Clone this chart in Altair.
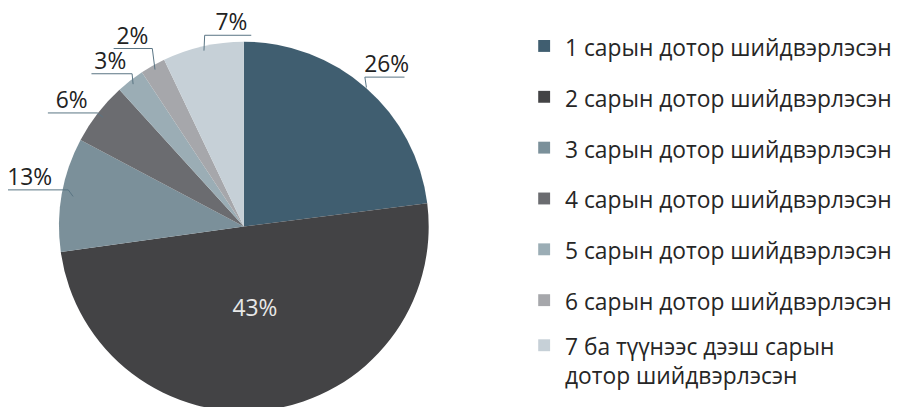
import math
import altair as alt
import pandas as pd

# ---------------- data ----------------
categories = [
    "1 сарын дотор шийдвэрлэсэн",
    "2 сарын дотор шийдвэрлэсэн",
    "3 сарын дотор шийдвэрлэсэн",
    "4 сарын дотор шийдвэрлэсэн",
    "5 сарын дотор шийдвэрлэсэн",
    "6 сарын дотор шийдвэрлэсэн",
    "7 ба түүнээс дээш сарын\nдотор шийдвэрлэсэн",
]
# slice sizes as drawn in the picture (share of the circle, %)
shares = [23.0, 49.8, 9.95, 5.5, 2.45, 2.2, 7.1]
# data labels as printed on the chart
labels = ["26%", "43%", "13%", "6%", "3%", "2%", "7%"]

# ---------------- style / layout ----------------
colors = ["#405e70", "#434345", "#7b909a", "#6b6c70", "#9badb5", "#a6a7ab", "#c6d0d7"]
W, H = 893, 399
CX, CY, R = 238, 218.7, 186.5
FONT = "Open Sans"
LEADER = "#587383"

# label call-out layout (per slice): side of the horizontal stroke, radii, lengths in px
side = [1, 0, -1, -1, -1, -1, 1]
elbow_r = [194, 0, 181, 187, 191, 202, 197]
elbow_nudge = [-2.4, 0, 1.8, 0, 1.7, 2.3, 1.2]   # degrees
inner_r = [187, 0, 175, 180, 182, 182, 182]
hline = [40, 0, 61, 50, 41, 39, 47]
text_off = [22, 0, 39, 26, 22, 20, 27]
inside_r = 84

# ---------------- derived tables ----------------
total = sum(shares)
slices = pd.DataFrame({"cat": categories, "value": shares, "label": labels,
                       "idx": list(range(len(categories)))})

seg_rows, lab_rows, in_rows = [], [], []
cum = 0.0
for i, v in enumerate(shares):
    mid = (cum + v / 2) / total * 2 * math.pi
    cum += v
    if side[i] == 0:
        in_rows.append({"ux": inside_r / R * math.sin(mid),
                        "uy": inside_r / R * math.cos(mid),
                        "label": labels[i]})
        continue
    ea = mid + math.radians(elbow_nudge[i])
    ex, ey = elbow_r[i] / R * math.sin(ea), elbow_r[i] / R * math.cos(ea)
    ix, iy = inner_r[i] / R * math.sin(mid), inner_r[i] / R * math.cos(mid)
    seg_rows.append({"x": ix, "y": iy, "x2": ex, "y2": ey})
    seg_rows.append({"x": ex, "y": ey, "x2": ex + side[i] * hline[i] / R, "y2": ey})
    lab_rows.append({"ux": ex + side[i] * text_off[i] / R, "uy": ey, "label": labels[i]})

segs = pd.DataFrame(seg_rows)
outlabs = pd.DataFrame(lab_rows)
inlabs = pd.DataFrame(in_rows)

xs = alt.Scale(domain=[-1, 1], range=[CX - R, CX + R], nice=False, zero=False)
ys = alt.Scale(domain=[-1, 1], range=[CY + R, CY - R], nice=False, zero=False)
cscale = alt.Scale(domain=categories, range=colors)

pie = alt.Chart(slices).mark_arc(radius=R).encode(
    theta=alt.Theta("value:Q", stack=True),
    color=alt.Color("cat:N", scale=cscale, legend=None),
    order=alt.Order("idx:Q", sort="ascending"),
    x=alt.value(CX),
    y=alt.value(CY),
)

leaders = alt.Chart(segs).mark_rule(color=LEADER, strokeWidth=1).encode(
    x=alt.X("x:Q", scale=xs, axis=None),
    y=alt.Y("y:Q", scale=ys, axis=None),
    x2="x2:Q",
    y2="y2:Q",
)

out_text = alt.Chart(outlabs).mark_text(
    align="center", baseline="alphabetic", dy=-5, fontSize=23, font=FONT, color="#222222"
).encode(
    x=alt.X("ux:Q", scale=xs, axis=None),
    y=alt.Y("uy:Q", scale=ys, axis=None),
    text="label:N",
)

in_text = alt.Chart(inlabs).mark_text(
    align="center", baseline="middle", fontSize=23, font=FONT, color="#e8e8e8"
).encode(
    x=alt.X("ux:Q", scale=xs, axis=None),
    y=alt.Y("uy:Q", scale=ys, axis=None),
    text="label:N",
)

leg_y = alt.Scale(domain=[0, 5, 6], range=[36.5, 293, 338.5], nice=False, zero=False)

leg_sq = alt.Chart(slices).mark_square(size=144, opacity=1).encode(
    x=alt.value(541),
    y=alt.Y("idx:Q", scale=leg_y, axis=None),
    color=alt.Color("cat:N", scale=cscale, legend=None),
)

leg_txt = alt.Chart(slices).mark_text(
    align="left", baseline="alphabetic", dy=10, fontSize=23, font=FONT,
    color="#262626", lineBreak="\n", lineHeight=29,
).encode(
    x=alt.value(562),
    y=alt.Y("idx:Q", scale=leg_y, axis=None),
    text="cat:N",
)

chart = alt.layer(pie, leaders, out_text, in_text, leg_sq, leg_txt).resolve_scale(
    x="independent", y="independent"
).properties(
    width=W, height=H, padding=0,
    autosize=alt.AutoSizeParams(type="none"),
    background="white",
).configure_view(strokeWidth=0)

chart.save("out.html", embed_options={"renderer": "svg", "actions": False})
